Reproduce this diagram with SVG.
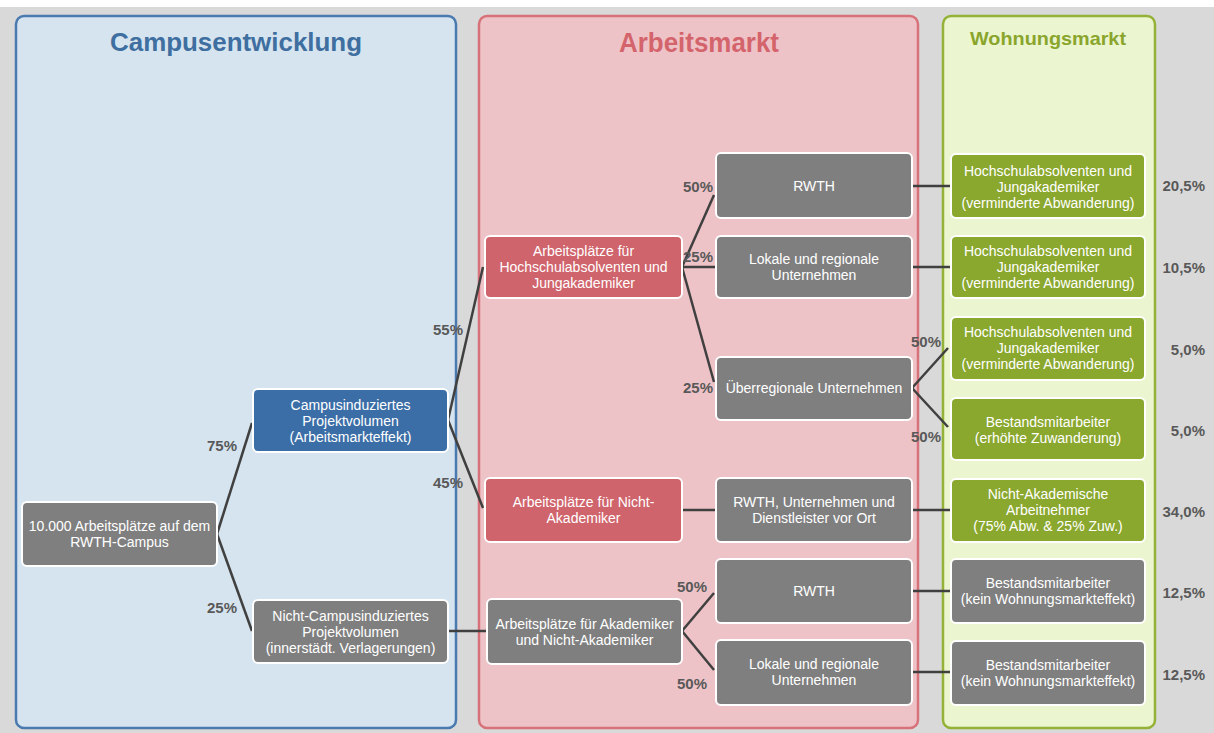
<svg xmlns="http://www.w3.org/2000/svg" width="1214" height="733" viewBox="0 0 1214 733">
<style>
.nt{font-family:"Liberation Sans",Arial,sans-serif;font-size:14px;fill:#ffffff;text-anchor:middle}
.pct{font-family:"Liberation Sans",Arial,sans-serif;font-size:15px;font-weight:bold;fill:#595959;text-anchor:middle}
.pr{font-family:"Liberation Sans",Arial,sans-serif;font-size:15px;font-weight:bold;fill:#595959;text-anchor:end}
.ttl{font-family:"Liberation Sans",Arial,sans-serif;font-weight:bold;text-anchor:middle}
.box{stroke:#ffffff;stroke-width:2}
.gray{fill:#7f7f7f}
.blue{fill:#3b6ea6}
.red{fill:#d0646c}
.green{fill:#8aa72e}
.con{stroke:#404040;stroke-width:2.5;fill:none}
</style>
<rect x="0" y="0" width="1214" height="733" fill="#ffffff"/>
<rect x="0" y="7" width="1214" height="726" fill="#d9d9d9"/>
<g id="panel-campus">
<rect x="16" y="16" width="440" height="712" rx="8" fill="#d6e4ef" stroke="#4a7ab0" stroke-width="2.5"/>
<text class="ttl" x="236" y="51" font-size="25" fill="#3e6fa0" textLength="252" lengthAdjust="spacingAndGlyphs">Campusentwicklung</text>
</g>
<g id="panel-arbeit">
<rect x="479" y="16" width="439" height="712" rx="8" fill="#eec3c7" stroke="#d7727a" stroke-width="2.5"/>
<text class="ttl" x="699" y="52" font-size="27" fill="#d4646c" textLength="160" lengthAdjust="spacingAndGlyphs">Arbeitsmarkt</text>
</g>
<g id="panel-wohnung">
<rect x="943" y="16" width="212" height="712" rx="8" fill="#ebf5d0" stroke="#94b237" stroke-width="2.5"/>
<text class="ttl" x="1048" y="45" font-size="19" fill="#8aa52c" textLength="156" lengthAdjust="spacingAndGlyphs">Wohnungsmarkt</text>
</g>
<g id="connectors">
<path class="con" d="M217,534 L252,423"/>
<path class="con" d="M217,534 L252,631"/>
<path class="con" d="M448,420 L483,267"/>
<path class="con" d="M448,420 L483,508"/>
<path class="con" d="M448,631 L487,631"/>
<path class="con" d="M682,267 L714,195"/>
<path class="con" d="M682,267 L716,267"/>
<path class="con" d="M682,267 L714,382"/>
<path class="con" d="M682,510 L716,510"/>
<path class="con" d="M682,631 L714,593"/>
<path class="con" d="M682,631 L714,670"/>
<path class="con" d="M912,186 L951,186"/>
<path class="con" d="M912,267 L951,267"/>
<path class="con" d="M912,388 L948,348"/>
<path class="con" d="M912,388 L948,427"/>
<path class="con" d="M912,510 L951,510"/>
<path class="con" d="M912,591 L951,591"/>
<path class="con" d="M912,672 L951,672"/>
<text class="pct" x="222" y="451">75%</text>
<text class="pct" x="222" y="613">25%</text>
<text class="pct" x="448" y="335">55%</text>
<text class="pct" x="448" y="488">45%</text>
<text class="pct" x="698" y="192">50%</text>
<text class="pct" x="698" y="262">25%</text>
<text class="pct" x="698" y="393">25%</text>
<text class="pct" x="926" y="347">50%</text>
<text class="pct" x="926" y="442">50%</text>
<text class="pct" x="692" y="592">50%</text>
<text class="pct" x="692" y="689">50%</text>
</g>
<g id="n-root">
<rect class="box gray" x="22" y="502" width="195" height="64" rx="5"/>
<text class="nt" x="119.5" y="531">10.000 Arbeitsplätze auf dem</text>
<text class="nt" x="119.5" y="547">RWTH-Campus</text>
</g>
<g id="n-campus">
<rect class="box blue" x="253" y="389" width="195" height="63" rx="5"/>
<text class="nt" x="350.5" y="410">Campusinduziertes</text>
<text class="nt" x="350.5" y="426">Projektvolumen</text>
<text class="nt" x="350.5" y="442">(Arbeitsmarkteffekt)</text>
</g>
<g id="n-nichtcampus">
<rect class="box gray" x="253" y="600" width="195" height="63" rx="5"/>
<text class="nt" x="350.5" y="621">Nicht-Campusinduziertes</text>
<text class="nt" x="350.5" y="637">Projektvolumen</text>
<text class="nt" x="350.5" y="653">(innerstädt. Verlagerungen)</text>
</g>
<g id="n-hochschul">
<rect class="box red" x="485" y="236" width="197" height="62" rx="5"/>
<text class="nt" x="583.5" y="256">Arbeitsplätze für</text>
<text class="nt" x="583.5" y="272">Hochschulabsolventen und</text>
<text class="nt" x="583.5" y="288">Jungakademiker</text>
</g>
<g id="n-nichtakad">
<rect class="box red" x="485" y="478" width="197" height="64" rx="5"/>
<text class="nt" x="583.5" y="507">Arbeitsplätze für Nicht-</text>
<text class="nt" x="583.5" y="523">Akademiker</text>
</g>
<g id="n-akad">
<rect class="box gray" x="487" y="599" width="195" height="65" rx="5"/>
<text class="nt" x="584.5" y="629">Arbeitsplätze für Akademiker</text>
<text class="nt" x="584.5" y="645">und Nicht-Akademiker</text>
</g>
<g id="n-rwth1">
<rect class="box gray" x="716" y="153" width="196" height="65" rx="5"/>
<text class="nt" x="814" y="191">RWTH</text>
</g>
<g id="n-lokal1">
<rect class="box gray" x="716" y="236" width="196" height="62" rx="5"/>
<text class="nt" x="814" y="264">Lokale und regionale</text>
<text class="nt" x="814" y="280">Unternehmen</text>
</g>
<g id="n-ueber">
<rect class="box gray" x="716" y="357" width="196" height="63" rx="5"/>
<text class="nt" x="814" y="393">Überregionale Unternehmen</text>
</g>
<g id="n-rwthunt">
<rect class="box gray" x="716" y="478" width="196" height="64" rx="5"/>
<text class="nt" x="814" y="507">RWTH, Unternehmen und</text>
<text class="nt" x="814" y="523">Dienstleister vor Ort</text>
</g>
<g id="n-rwth2">
<rect class="box gray" x="716" y="559" width="196" height="64" rx="5"/>
<text class="nt" x="814" y="596">RWTH</text>
</g>
<g id="n-lokal2">
<rect class="box gray" x="716" y="640" width="196" height="65" rx="5"/>
<text class="nt" x="814" y="669">Lokale und regionale</text>
<text class="nt" x="814" y="685">Unternehmen</text>
</g>
<g id="n-g1">
<rect class="box green" x="951" y="154" width="194" height="64" rx="5"/>
<text class="nt" x="1048" y="176">Hochschulabsolventen und</text>
<text class="nt" x="1048" y="192">Jungakademiker</text>
<text class="nt" x="1048" y="208">(verminderte Abwanderung)</text>
</g>
<g id="n-g2">
<rect class="box green" x="951" y="236" width="194" height="62" rx="5"/>
<text class="nt" x="1048" y="256">Hochschulabsolventen und</text>
<text class="nt" x="1048" y="272">Jungakademiker</text>
<text class="nt" x="1048" y="288">(verminderte Abwanderung)</text>
</g>
<g id="n-g3">
<rect class="box green" x="951" y="317" width="194" height="63" rx="5"/>
<text class="nt" x="1048" y="337">Hochschulabsolventen und</text>
<text class="nt" x="1048" y="353">Jungakademiker</text>
<text class="nt" x="1048" y="369">(verminderte Abwanderung)</text>
</g>
<g id="n-g4">
<rect class="box green" x="951" y="398" width="194" height="62" rx="5"/>
<text class="nt" x="1048" y="427">Bestandsmitarbeiter</text>
<text class="nt" x="1048" y="443">(erhöhte Zuwanderung)</text>
</g>
<g id="n-g5">
<rect class="box green" x="951" y="479" width="194" height="63" rx="5"/>
<text class="nt" x="1048" y="499">Nicht-Akademische</text>
<text class="nt" x="1048" y="515">Arbeitnehmer</text>
<text class="nt" x="1048" y="531">(75% Abw. &amp; 25% Zuw.)</text>
</g>
<g id="n-g6">
<rect class="box gray" x="951" y="559" width="194" height="64" rx="5"/>
<text class="nt" x="1048" y="588">Bestandsmitarbeiter</text>
<text class="nt" x="1048" y="604">(kein Wohnungsmarkteffekt)</text>
</g>
<g id="n-g7">
<rect class="box gray" x="951" y="641" width="194" height="64" rx="5"/>
<text class="nt" x="1048" y="670">Bestandsmitarbeiter</text>
<text class="nt" x="1048" y="686">(kein Wohnungsmarkteffekt)</text>
</g>
<g id="totals">
<text class="pr" x="1205" y="191">20,5%</text>
<text class="pr" x="1205" y="273">10,5%</text>
<text class="pr" x="1205" y="355">5,0%</text>
<text class="pr" x="1205" y="436">5,0%</text>
<text class="pr" x="1205" y="517">34,0%</text>
<text class="pr" x="1205" y="598">12,5%</text>
<text class="pr" x="1205" y="680">12,5%</text>
</g>
</svg>
